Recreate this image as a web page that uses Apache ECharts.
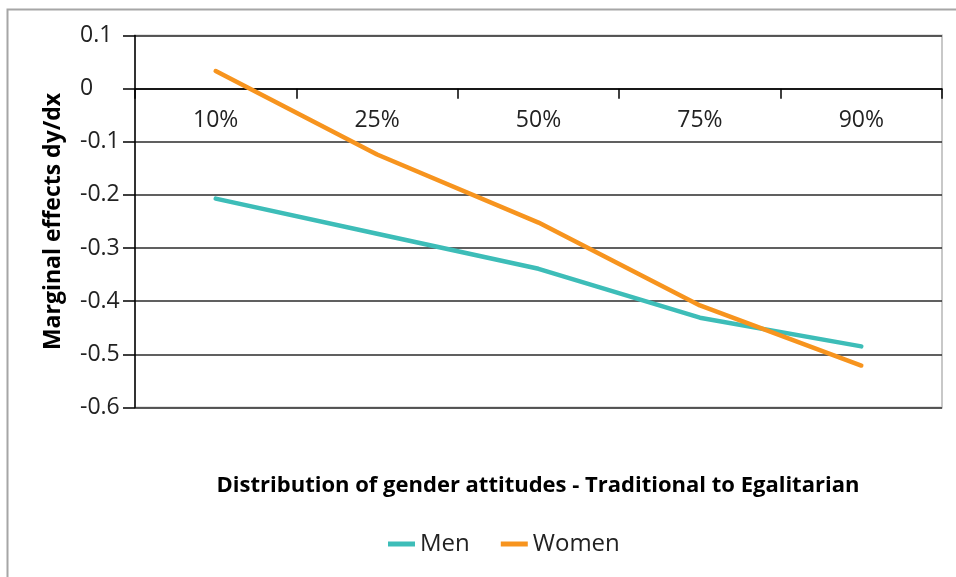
<!DOCTYPE html>
<html>
<head>
<meta charset="utf-8">
<script src="https://cdn.jsdelivr.net/npm/echarts@6/dist/echarts.min.js"></script>
<style>html,body{margin:0;padding:0;background:#fff}#c{width:956px;height:577px}</style>
</head>
<body>
<div id="c"></div>
<script>
var categories = ['10%', '25%', '50%', '75%', '90%'];
var menValues = [-0.207, -0.273, -0.339, -0.431, -0.485];
var womenValues = [0.033, -0.124, -0.252, -0.408, -0.521];
var seriesNames = ['Men', 'Women'];
var yAxisTitle = 'Marginal effects dy/dx';
var xAxisTitle = 'Distribution of gender attitudes - Traditional to Egalitarian';

var FONT = '"Open Sans", sans-serif';
var chart = echarts.init(document.getElementById('c'), null, {renderer: 'canvas'});
chart.setOption({
  animation: false,
  backgroundColor: '#fff',
  textStyle: {fontFamily: FONT},
  graphic: [
    {type: 'rect', silent: true, z: -10,
     shape: {x: 7.5, y: 9.5, width: 2000, height: 2000},
     style: {fill: null, stroke: '#a6a6a6', lineWidth: 2}},
    {type: 'text', x: 538, y: 486, silent: true,
     style: {text: xAxisTitle, fontFamily: FONT, fontWeight: 'bold', fontSize: 22,
             fill: '#000', align: 'center', verticalAlign: 'middle'}}
  ],
  grid: {left: 135, right: 14, top: 35.5, bottom: 169.5, show: true,
         borderColor: '#c8c8c8', borderWidth: 2, backgroundColor: 'transparent'},
  legend: {
    data: seriesNames, left: 388, top: 532, padding: 0,
    icon: 'rect', itemWidth: 27, itemHeight: 5, itemGap: 31,
    textStyle: {fontSize: 24, color: '#222', fontFamily: FONT}
  },
  xAxis: {
    type: 'category', data: categories, boundaryGap: true,
    position: 'top', offset: -53.2,
    axisLine: {onZero: false, lineStyle: {color: '#000', width: 1.5}},
    axisTick: {show: true, inside: true, length: 10, lineStyle: {color: '#000', width: 1.5}},
    axisLabel: {inside: true, fontSize: 23, color: '#222', margin: 20, fontFamily: FONT},
    splitLine: {show: false}
  },
  yAxis: {
    type: 'value', min: -0.6, max: 0.1, interval: 0.1,
    name: yAxisTitle, nameLocation: 'middle', nameGap: 70, nameRotate: 90,
    nameTextStyle: {fontSize: 23, fontWeight: 'bold', color: '#000', fontFamily: FONT},
    axisLine: {show: true, onZero: false, lineStyle: {color: '#000', width: 1.5}},
    axisTick: {show: true, inside: false, length: 12, lineStyle: {color: '#000', width: 1.5}},
    axisLabel: {fontSize: 23, color: '#222', margin: 55, align: 'left', fontFamily: FONT,
                formatter: function (v) { var r = Math.round(v * 10) / 10; return r === 0 ? '0' : String(r); }},
    splitLine: {show: true, lineStyle: {color: '#2b2b2b', width: 1.5}}
  },
  series: [
    {name: seriesNames[0], type: 'line', data: menValues, symbol: 'none',
     itemStyle: {color: '#3dbdb8'},
     lineStyle: {color: '#3dbdb8', width: 4.5, join: 'round', cap: 'round'}},
    {name: seriesNames[1], type: 'line', data: womenValues, symbol: 'none',
     itemStyle: {color: '#f7941e'},
     lineStyle: {color: '#f7941e', width: 4.5, join: 'round', cap: 'round'}}
  ]
});
</script>
</body>
</html>
